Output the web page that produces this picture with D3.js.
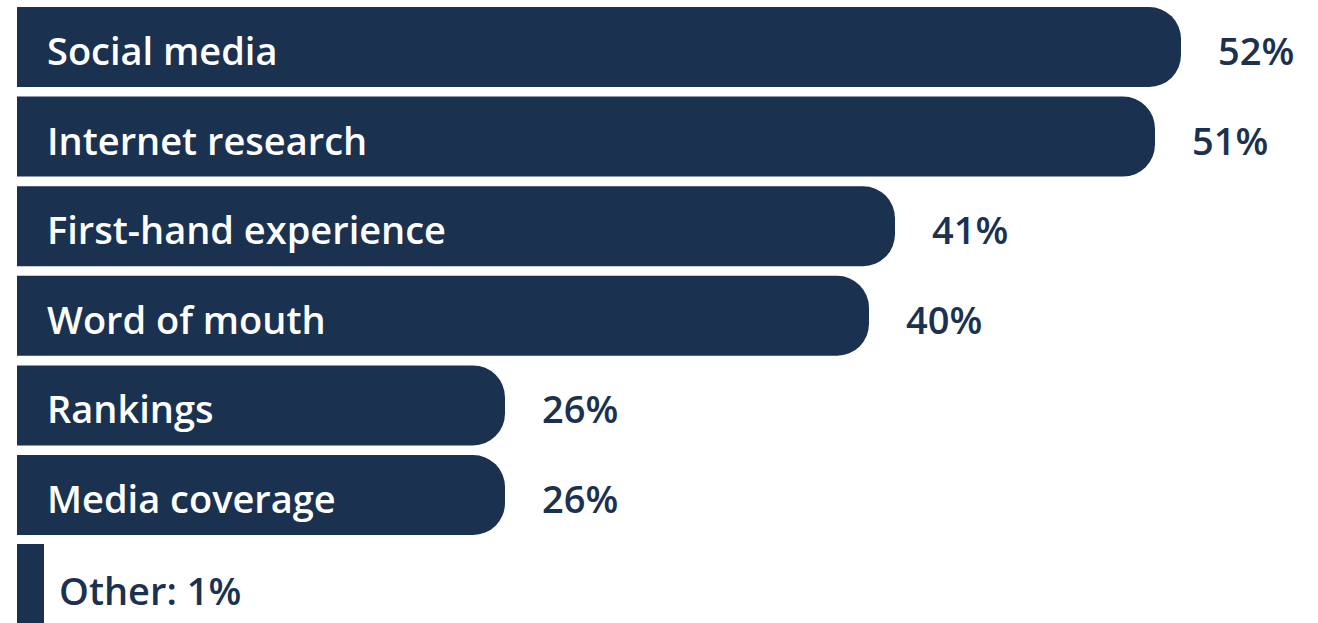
<!DOCTYPE html>
<html><head><meta charset="utf-8">
<script src="https://cdn.jsdelivr.net/npm/d3@7"></script>
<style>html,body{margin:0;padding:0;background:#fff;overflow:hidden}</style>
</head><body>
<svg id="c" width="1318" height="623"></svg>
<script>
const categories = ["Social media","Internet research","First-hand experience","Word of mouth","Rankings","Media coverage"];
const values = [52,51,41,40,26,26];
const otherLabel = "Other";
const otherValue = 1;

const navy = "#1b3150";
const font = "'Open Sans', Lato, sans-serif";
const fw = 600, fs = 38;
const svg = d3.select("#c");
const left = 17;
const x = d3.scaleLinear().domain([26,52]).range([505,1181]);
const y = d3.scaleBand().domain(categories).range([7,535]).paddingInner(0.107).paddingOuter(0);
const r = 32;

const g = svg.append("g");
categories.forEach((c,i)=>{
  const x1 = x(values[i]), y0 = y(c), h = y.bandwidth();
  const p = d3.path();
  p.moveTo(left,y0);
  p.lineTo(x1-r,y0);
  p.arcTo(x1,y0,x1,y0+r,r);
  p.lineTo(x1,y0+h-r);
  p.arcTo(x1,y0+h,x1-r,y0+h,r);
  p.lineTo(left,y0+h);
  p.closePath();
  g.append("path").attr("d",p.toString()).attr("fill",navy);
  g.append("text").attr("x",left+30).attr("y",y0+h/2+18)
    .attr("fill","#fff").attr("font-family",font).attr("font-weight",fw)
    .attr("font-size",fs).text(c);
  g.append("text").attr("x",x1+37).attr("y",y0+h/2+18)
    .attr("fill",navy).attr("font-family",font).attr("font-weight",fw)
    .attr("font-size",fs).text(values[i]+"%");
});
// Other bar
svg.append("rect").attr("x",left).attr("y",544).attr("width",27).attr("height",90).attr("fill",navy);
svg.append("text").attr("x",59).attr("y",605).attr("fill",navy)
  .attr("font-family",font).attr("font-weight",fw).attr("font-size",fs)
  .text(otherLabel+": "+otherValue+"%");
</script>
</body></html>
